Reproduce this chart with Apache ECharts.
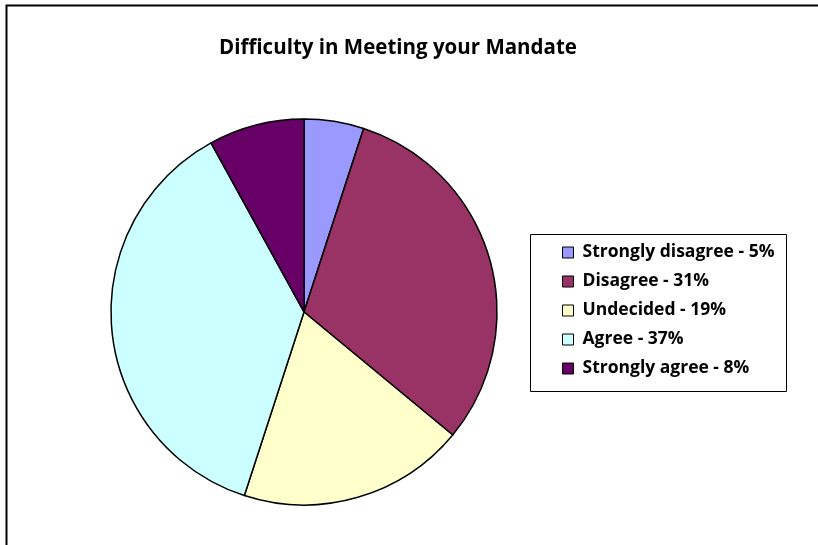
<!DOCTYPE html>
<html><head><meta charset="utf-8">
<script src="https://cdn.jsdelivr.net/npm/echarts@6/dist/echarts.min.js"></script>
<style>html,body{margin:0;padding:0;background:#fff}#c{width:818px;height:545px}</style>
</head><body><div id="c"></div>
<script>
const categories = ['Strongly disagree - 5%', 'Disagree - 31%', 'Undecided - 19%', 'Agree - 37%', 'Strongly agree - 8%'];
const values = [5, 31, 19, 37, 8];
const colors = ['#9999FF', '#993366', '#FFFFCC', '#CCFFFF', '#660066'];
const titleText = 'Difficulty in Meeting your Mandate';

const chart = echarts.init(document.getElementById('c'));
chart.setOption({
  animation: false,
  backgroundColor: '#fff',
  title: {
    text: titleText, left: 393, top: 33, textAlign: 'center',
    textStyle: {fontFamily: 'Open Sans', fontWeight: 'bold', fontSize: 20.5, color: '#000'}
  },
  graphic: [
    {type: 'rect', shape: {x: 6.5, y: 5.5, width: 840, height: 560}, style: {fill: 'none', stroke: '#000', lineWidth: 2}, z: 0},
    {type: 'rect', shape: {x: 530.5, y: 234.5, width: 256, height: 157}, style: {fill: '#fff', stroke: '#000', lineWidth: 1}, z: 1}
  ],
  legend: {
    orient: 'vertical', left: 557, top: 237, itemWidth: 11, itemHeight: 11, itemGap: 10,
    icon: 'rect', padding: [6, 5, 5, 5], z: 5,
    itemStyle: {borderColor: '#000', borderWidth: 1},
    textStyle: {fontFamily: 'Open Sans', fontWeight: 'bold', fontSize: 17.5, color: '#000', lineHeight: 19, padding: [0,0,0,4]},
    data: categories
  },
  series: [{
    type: 'pie', center: [304, 312], radius: 193, startAngle: 90, clockwise: true,
    label: {show: false}, labelLine: {show: false},
    itemStyle: {borderColor: '#000', borderWidth: 1.5},
    emphasis: {disabled: true},
    data: categories.map((n, i) => ({name: n, value: values[i], itemStyle: {color: colors[i]}}))
  }]
});
</script></body></html>
